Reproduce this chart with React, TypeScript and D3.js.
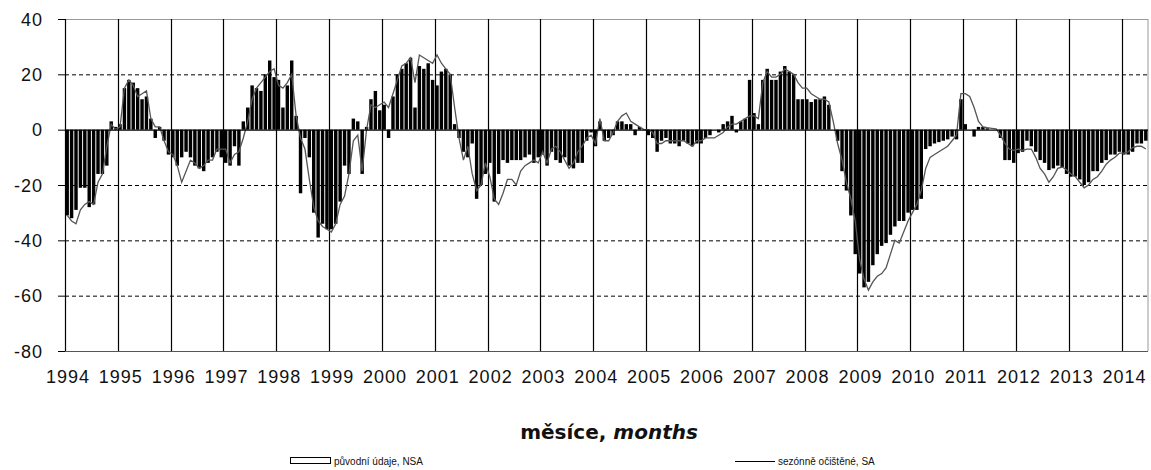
import React from 'react';
import * as d3 from 'd3';

// původní údaje (NSA), monthly, Jan 1994 – Jun 2014
const NSA = [
  -31, -32, -29, -21, -21, -28, -27, -16, -16, -13, 3, 1, // 1994
  2, 15, 18, 17, 15, 11, 12, 4, -3, 1, -4, -9, // 1995
  -10, -13, -10, -8, -10, -13, -14, -15, -12, -10, -8, -10, // 1996
  -12, -13, -6, -13, 3, 8, 16, 15, 14, 20, 25, 19, // 1997
  18, 8, 16, 25, 5, -23, -3, -10, -30, -39, -34, -36, // 1998
  -36, -34, -26, -13, -16, 4, 3, -16, 1, 11, 14, 7, // 1999
  9, -3, 12, 20, 22, 24, 26, 8, 23, 22, 24, 18, // 2000
  16, 21, 22, 20, 2, -3, -8, -10, -5, -25, -20, -16, // 2001
  -12, -26, -16, -11, -12, -11, -11, -11, -10, -9, -12, -10, // 2002
  -9, -13, -8, -11, -12, -10, -13, -14, -12, -12, -4, -1, // 2003
  -6, 3, -4, -3, -2, 3, 3, 2, 2, -2, 1, 0, // 2004
  -2, -3, -8, -4, -3, -5, -5, -6, -4, -5, -6, -5, // 2005
  -5, -3, -2, 0, -1, 2, 3, 5, -1, 3, 4, 18, // 2006
  6, 2, 18, 22, 18, 18, 21, 23, 21, 20, 11, 11, // 2007
  11, 10, 11, 11, 12, 9, 0, -4, -15, -22, -31, -45, // 2008
  -52, -57, -55, -49, -45, -42, -41, -38, -35, -33, -33, -30, // 2009
  -29, -29, -25, -7, -6, -5, -4.5, -4, -3.5, -2.5, -3.5, 11, // 2010
  2, 0, -2.5, 1, 1, 0.5, 0, 0, -3, -11, -11, -12, // 2011
  -8.5, -8, -4, -6, -8, -11, -12, -14.6, -14, -13, -13.5, -16, // 2012
  -17, -17, -18, -20, -19, -15, -15, -12, -11, -9, -9, -8, // 2013
  -9, -9, -8, -5, -5, -4, // 2014
];

// sezónně očištěné (SA)
const SA = [
  -31, -33, -34, -29, -27, -26, -27, -19, -16, -6, 2, 0, // 1994
  1, 15, 18, 16, 12, 13, 14, 4, 1, 1, -4, -8, // 1995
  -9, -13, -19, -15, -11, -12, -14, -13, -11, -11, -7, -7, // 1996
  -7, -12, -9, -8, -3, 3, 11, 15, 17, 19, 21, 22, // 1997
  16, 15, 17, 20, 5, -3, -7, -18, -28, -33, -35, -36, // 1998
  -37, -34, -27, -24, -16, -4, -2, -15, 0, 9, 8, 9, // 1999
  10, 8, 13, 18, 23, 24, 26, 17, 27, 26, 25, 24, // 2000
  27, 24, 22, 20, 8, -3, -11, -6, -16, -22, -20, -12, // 2001
  -17, -25, -27, -23, -18, -18, -20, -15, -13, -12, -11, -12, // 2002
  -8, -12, -7, -6, -8, -11, -14, -12, -8, -6, -3, -2, // 2003
  -5, 4, -4, -4, -1, 3, 5, 6, 3, 2, 1, 0, // 2004
  0, -1, -5, -5, -4, -4, -4, -4, -4, -5, -6, -4, // 2005
  -4, -3, -3, -3, -2, -1, 1, 2, 2, 3, 4, 5, // 2006
  5, 4, 17, 21, 19, 19, 20, 22, 21, 20, 17, 15, // 2007
  15, 13, 12, 11, 11, 10, 3, -5, -11, -19, -25, -33, // 2008
  -47, -54, -58, -55, -53, -52, -50, -45, -40, -41, -37, -33, // 2009
  -30, -27, -22, -14, -10, -9, -8, -7, -6, -4, -2, 13, // 2010
  13, 12, 8, 3, 1, 0.7, 0.5, 0.3, -2, -5, -7, -7.5, // 2011
  -7, -7.5, -7, -7, -10, -14, -16, -19, -17, -14, -13.5, -14.5, // 2012
  -16, -17, -19, -21, -20, -18, -17, -15, -12.5, -11, -10, -8.5, // 2013
  -8.5, -8, -6.5, -6, -6, -7, // 2014
];

const YEARS = ['1994', '1995', '1996', '1997', '1998', '1999', '2000', '2001', '2002',
  '2003', '2004', '2005', '2006', '2007', '2008', '2009', '2010', '2011', '2012',
  '2013', '2014'];
const Y_TICKS = [40, 20, 0, -20, -40, -60, -80];

const MONTHS = NSA.map((_, i) => `${YEARS[Math.floor(i / 12)]}-${(i % 12) + 1}`);

const W = 1151;
const H = 470;
const FONT = "'Liberation Sans', Arial, sans-serif";

export default function App() {
  const left = 65;
  const right = 1148;
  const top = 19;
  const bottom = 351;

  const x = d3.scaleBand<string>().domain(MONTHS).range([left, right]).paddingInner(0.22).paddingOuter(0.11);
  const y = d3.scaleLinear().domain([-80, 40]).range([bottom, top]);
  const step = x.step();
  const monthStart = (i: number) => left + i * step;

  const line = d3.line<number>()
    .x((_, i) => (x(MONTHS[i]) ?? 0) + x.bandwidth() / 2)
    .y(d => y(d));

  return (
    <svg width={W} height={H} style={{ position: 'absolute', left: 0, top: 0, background: '#fff' }}
      fontFamily={FONT}>
      {/* horizontal grid */}
      {Y_TICKS.filter(t => t !== 0 && t !== 40 && t !== -80).map(t => (
        <line key={t} x1={left} x2={right} y1={y(t) + 0.5} y2={y(t) + 0.5}
          stroke="#000" strokeWidth={1} strokeDasharray="4 3" />
      ))}
      <line x1={left} x2={right} y1={y(40) + 0.5} y2={y(40) + 0.5} stroke="#999" />
      <line x1={right} x2={right} y1={top} y2={bottom} stroke="#999" />

      {/* year lines */}
      {YEARS.map((yr, i) => (
        <line key={yr} x1={Math.round(monthStart(i * 12)) + 0.5} x2={Math.round(monthStart(i * 12)) + 0.5}
          y1={top} y2={bottom} stroke="#000" strokeWidth={1.2} />
      ))}

      {/* NSA bars */}
      {NSA.map((v, i) => (
        <rect key={i} x={x(MONTHS[i])} width={x.bandwidth()}
          y={Math.min(y(v), y(0))} height={Math.abs(y(v) - y(0))} fill="#000" />
      ))}

      {/* SA line */}
      <path d={line(SA) ?? ''} fill="none" stroke="#555" strokeWidth={1.3} />

      {/* zero line and bottom */}
      <line x1={left} x2={right} y1={y(0) + 0.5} y2={y(0) + 0.5} stroke="#000" strokeWidth={1.2} />
      <line x1={left} x2={right} y1={y(-80) + 0.5} y2={y(-80) + 0.5} stroke="#555" />

      {/* y ticks & labels */}
      {Y_TICKS.map(t => (
        <g key={t}>
          <line x1={left - 7} x2={left} y1={y(t) + 0.5} y2={y(t) + 0.5} stroke="#000" />
          <text x={43} y={y(t) + 6.5} textAnchor="end" fontSize={18} letterSpacing={1} fill="#111">{t}</text>
        </g>
      ))}

      {/* x labels */}
      {YEARS.map((yr, i) => (
        <text key={yr} x={monthStart(i * 12) + 3} y={383} textAnchor="middle" fontSize={18}
          letterSpacing={1} fill="#111">{yr}</text>
      ))}

      {/* axis title */}
      <text x={609} y={439} textAnchor="middle" fontSize={20} fontWeight="bold" fill="#111"
        fontFamily="'DejaVu Sans', sans-serif">
        měsíce, <tspan fontStyle="italic">months</tspan>
      </text>

      {/* legend */}
      <rect x={290.5} y={457.5} width={40} height={6} fill="#fff" stroke="#000" />
      <text x={334} y={465} fontSize={10} fill="#111">původní údaje, NSA</text>
      <line x1={735} x2={775} y1={461.5} y2={461.5} stroke="#000" />
      <text x={778} y={465} fontSize={10} fill="#111">sezónně očištěné, SA</text>
    </svg>
  );
}
